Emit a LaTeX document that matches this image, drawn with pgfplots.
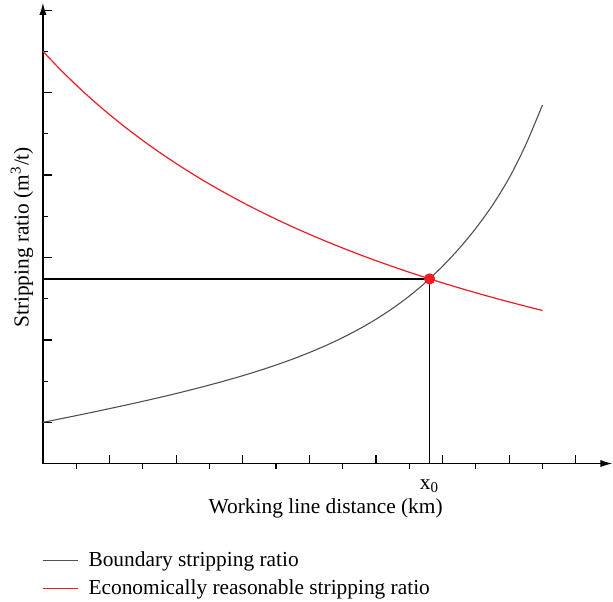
\documentclass[border=0pt]{standalone}
\usepackage{fontspec}
\setmainfont{Liberation Serif}
\usepackage{pgfplots}
\pgfplotsset{compat=1.18}
\usetikzlibrary{arrows.meta}
\definecolor{cred}{HTML}{ED1C24}
\definecolor{cgray}{HTML}{505050}
\begin{document}
\begin{tikzpicture}[font=\fontsize{10.7}{12.8}\selectfont]
\begin{axis}[
  x=16.667pt, y=20.625pt,
  xmin=0, xmax=17.1, ymin=0, ymax=11.18,
  axis x line=bottom, axis y line=left,
  axis line style={line width=0.6pt, -{Latex[length=6pt,width=3.6pt]}},
  xtick={2,4,...,16}, xticklabels={},
  extra x ticks={1,3,...,15}, extra x tick labels={},
  extra x tick style={tick align=outside, major tick length=2.5pt},
  ytick={1,3,...,11}, yticklabels={},
  minor ytick={2,4,...,10},
  tick align=inside,
  major tick length=4.5pt, minor tick length=2.5pt,
  tick style={line width=0.6pt, black},
  clip=false,
  legend cell align=left,
  legend style={at={(axis cs:0,0)}, anchor=north west, xshift=-0.5pt, yshift=-42pt,
    draw=none, inner sep=0pt, row sep=1pt, column sep=3pt,
    font=\fontsize{10.7}{12.8}\selectfont},
]
\addplot[draw=cgray, line width=0.55pt, smooth, forget plot] coordinates {
  (0,1.000) (0.5,1.081) (1,1.163) (1.5,1.247) (2,1.333) (2.5,1.420) (3,1.510)
  (3.5,1.603) (4,1.699) (4.5,1.800) (5,1.905) (5.5,2.015) (6,2.132) (6.5,2.257)
  (7,2.391) (7.5,2.535) (8,2.693) (8.5,2.865) (9,3.055) (9.5,3.266) (10,3.501)
  (10.5,3.765) (11,4.063) (11.5,4.402) (12,4.788) (12.5,5.22) (13,5.71)
  (13.5,6.27) (14,6.93) (14.5,7.74) (15,8.70)};
\addplot[draw=cred, line width=0.6pt, smooth, forget plot] coordinates {
  (0,10.003) (0.5,9.578) (1,9.183) (1.5,8.813) (2,8.467) (2.5,8.143) (3,7.838)
  (3.5,7.551) (4,7.280) (4.5,7.024) (5,6.781) (5.5,6.552) (6,6.334) (6.5,6.127)
  (7,5.930) (7.5,5.742) (8,5.563) (8.5,5.393) (9,5.229) (9.5,5.073) (10,4.923)
  (10.5,4.780) (11,4.642) (11.5,4.510) (12,4.383) (12.5,4.261) (13,4.143)
  (13.5,4.030) (14,3.921) (14.5,3.816) (15,3.714)};
\addplot[black, line width=0.6pt, forget plot] coordinates {(0,4.48) (11.61,4.48) (11.61,0)};
\addplot[cred, only marks, mark=*, mark size=2.6pt, forget plot] coordinates {(11.61,4.48)};
\addlegendimage{legend image code/.code={\draw[draw=cgray,line width=0.55pt] (0pt,0pt) -- (17.5pt,0pt);}}
\addlegendentry{Boundary stripping ratio}
\addlegendimage{legend image code/.code={\draw[draw=cred,line width=0.6pt] (0pt,0pt) -- (17.5pt,0pt);}}
\addlegendentry{Economically reasonable stripping ratio}
\node at ([yshift=-11.5pt]axis cs:11.61,0) {x\textsubscript{0}};
\node at ([yshift=-22.5pt]axis cs:8.49,0) {Working line distance (km)};
\node[rotate=90] at ([xshift=-10.5pt]axis cs:0,5.49) {Stripping ratio (m\textsuperscript{3}/t)};
\coordinate (O) at (axis cs:0,0);
\end{axis}
\path ([xshift=-21.5pt,yshift=-68.5pt]O) rectangle ([xshift=285pt,yshift=232pt]O);
\end{tikzpicture}
\end{document}
